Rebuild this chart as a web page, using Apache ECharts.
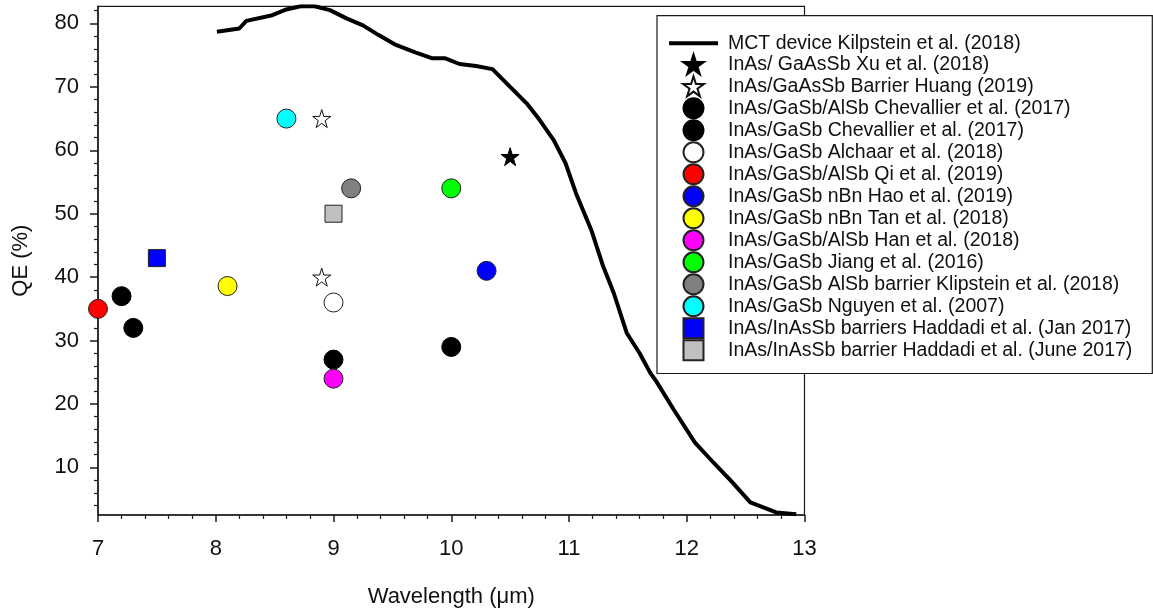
<!DOCTYPE html>
<html>
<head>
<meta charset="utf-8">
<title>QE vs wavelength</title>
<script src="https://cdn.jsdelivr.net/npm/echarts@6/dist/echarts.min.js"></script>
<style>
  html, body { margin: 0; padding: 0; background: #fff; }
  #chart { width: 1153px; height: 610px; }
</style>
</head>
<body>
<div id="chart"></div>
<script>
// MCT reference device: quantum efficiency spectrum
const mctWavelength = [8.01, 8.2, 8.26, 8.48, 8.6, 8.72, 8.84, 8.97, 9.11, 9.25, 9.38, 9.53, 9.7, 9.84, 9.95,
  10.07, 10.21, 10.35, 10.5, 10.64, 10.75, 10.87, 10.97, 11.06, 11.19, 11.29, 11.38, 11.49, 11.6, 11.69,
  11.74, 11.89, 12.07, 12.23, 12.38, 12.54, 12.76, 12.93];
const mctQE = [78.7, 79.2, 80.4, 81.3, 82.2, 82.7, 82.7, 82.1, 80.8, 79.7, 78.2, 76.6, 75.4, 74.5, 74.5,
  73.6, 73.3, 72.8, 70.0, 67.4, 64.8, 61.6, 58.0, 53.2, 47.4, 41.7, 37.5, 31.2, 28.0, 24.9,
  23.6, 19.1, 13.9, 10.7, 7.8, 4.5, 2.9, 2.6];

// Superlattice devices: [wavelength (um), QE (%)]
const xu2018 = [[10.5, 59]];
const huang2019 = [[8.9, 65], [8.9, 40]];
const chevallierAlSb2017 = [[7.3, 32], [10.0, 29]];
const chevallier2017 = [[7.2, 37], [9.0, 27]];
const alchaar2018 = [[9.0, 36]];
const qi2019 = [[7.0, 35]];
const hao2019 = [[10.3, 41]];
const tan2018 = [[8.1, 38.6]];
const han2018 = [[9.0, 24]];
const jiang2016 = [[10.0, 54]];
const klipstein2018 = [[9.15, 54]];
const nguyen2007 = [[8.6, 65]];
const haddadiJan2017 = [[7.5, 43]];
const haddadiJune2017 = [[9.0, 50]];

// Axis ticks
const xTicks = [7, 8, 9, 10, 11, 12, 13];
const yTicks = [10, 20, 30, 40, 50, 60, 70, 80];
const yMinorTicks = [4, 6, 8, 12, 14, 16, 18, 22, 24, 26, 28, 32, 34, 36, 38, 42, 44, 46, 48,
  52, 54, 56, 58, 62, 64, 66, 68, 72, 74, 76, 78, 82];

const FONT = "'Liberation Sans', Arial, sans-serif";
const AXIS_COLOR = '#1a1a1a';
const OUTLINE = '#222';
const STAR = 'path://M50,0 L61.2,35.2 L98,35.2 L68.2,56.8 L79.4,92 L50,70.4 L20.6,92 L31.8,56.8 L2,35.2 L38.8,35.2 Z';
const SQUARE = 'path://M0,0 L10,0 L10,10 L0,10 Z';
const LINE_ICON = 'path://M0,0 L49,0 L49,4 L0,4 Z';

function markerSeries(name, data, symbol, size, fill, border) {
  return {
    name: name,
    type: 'scatter',
    data: data,
    symbol: symbol,
    symbolSize: size,
    itemStyle: { color: fill, borderColor: border, borderWidth: 1, opacity: 1 },
    emphasis: { disabled: true },
    z: 3
  };
}

const series = [
  {
    name: 'MCT device Kilpstein et al. (2018)',
    type: 'line',
    data: mctWavelength.map((w, i) => [w, mctQE[i]]),
    symbol: 'none',
    smooth: false,
    lineStyle: { color: '#000', width: 4 },
    itemStyle: { color: '#000' },
    emphasis: { disabled: true },
    z: 2
  },
  markerSeries('InAs/ GaAsSb Xu et al. (2018)', xu2018, STAR, 18, '#000', '#000'),
  markerSeries('InAs/GaAsSb Barrier Huang (2019)', huang2019, STAR, 18, '#fff', '#111'),
  markerSeries('InAs/GaSb/AlSb Chevallier et al. (2017)', chevallierAlSb2017, 'circle', 19, '#000', '#000'),
  markerSeries('InAs/GaSb Chevallier et al. (2017)', chevallier2017, 'circle', 19, '#000', '#000'),
  markerSeries('InAs/GaSb Alchaar et al. (2018)', alchaar2018, 'circle', 19, '#fff', OUTLINE),
  markerSeries('InAs/GaSb/AlSb Qi et al. (2019)', qi2019, 'circle', 19, '#ff0000', OUTLINE),
  markerSeries('InAs/GaSb nBn Hao et al. (2019)', hao2019, 'circle', 19, '#0000ff', OUTLINE),
  markerSeries('InAs/GaSb nBn Tan et al. (2018)', tan2018, 'circle', 19, '#ffff00', OUTLINE),
  markerSeries('InAs/GaSb/AlSb Han et al. (2018)', han2018, 'circle', 19, '#ff00ff', OUTLINE),
  markerSeries('InAs/GaSb Jiang et al. (2016)', jiang2016, 'circle', 19, '#00ff00', OUTLINE),
  markerSeries('InAs/GaSb AlSb barrier Klipstein et al. (2018)', klipstein2018, 'circle', 19, '#808080', OUTLINE),
  markerSeries('InAs/GaSb Nguyen et al. (2007)', nguyen2007, 'circle', 19, '#00ffff', OUTLINE),
  markerSeries('InAs/InAsSb barriers Haddadi et al. (Jan 2017)', haddadiJan2017, SQUARE, 17, '#0000ff', OUTLINE),
  markerSeries('InAs/InAsSb barrier Haddadi et al. (June 2017)', haddadiJune2017, SQUARE, 17, '#c0c0c0', OUTLINE)
];

const legendData = series.map(s => ({
  name: s.name,
  icon: s.type === 'line' ? LINE_ICON : s.symbol
}));

const chart = echarts.init(document.getElementById('chart'), null, { renderer: 'canvas' });

chart.setOption({
  animation: false,
  backgroundColor: '#fff',
  textStyle: { fontFamily: FONT },
  grid: {
    left: 98, right: 348.5, top: 6.3, bottom: 95,
    show: true, borderColor: AXIS_COLOR, borderWidth: 1.2, backgroundColor: 'transparent',
    containLabel: false,
    outerBoundsMode: 'none'
  },
  legend: {
    orient: 'vertical',
    left: 657, top: 15.7,
    padding: [17.6, 20, 12.2, 12],
    itemWidth: 49, itemHeight: 20, itemGap: 0,
    backgroundColor: '#fff',
    borderColor: AXIS_COLOR, borderWidth: 1.2, borderRadius: 0,
    selectedMode: false,
    symbolKeepAspect: true,
    textStyle: { fontFamily: FONT, fontSize: 19.5, color: '#111', lineHeight: 18, padding: [0, 0, 0, 5] },
    data: legendData,
    z: 10
  },
  xAxis: {
    type: 'value',
    min: xTicks[0], max: xTicks[xTicks.length - 1], interval: 1,
    name: 'Wavelength (μm)',
    nameLocation: 'middle', nameGap: 71,
    nameTextStyle: { fontFamily: FONT, fontSize: 22, color: '#111' },
    axisLine: { show: true, onZero: false, lineStyle: { color: AXIS_COLOR, width: 1.5 } },
    axisTick: { show: true, inside: false, length: 7, lineStyle: { color: AXIS_COLOR, width: 1.5 } },
    minorTick: { show: true, splitNumber: 5, length: 4, lineStyle: { color: AXIS_COLOR, width: 1.2 } },
    axisLabel: { show: true, margin: 23, fontFamily: FONT, fontSize: 22, color: '#111' },
    splitLine: { show: false },
    minorSplitLine: { show: false }
  },
  yAxis: [
    {
      type: 'value',
      min: 2.5, max: 82.7,
      name: 'QE (%)',
      nameLocation: 'middle', nameGap: 66, nameRotate: 90,
      nameTextStyle: { fontFamily: FONT, fontSize: 22, color: '#111' },
      axisLine: { show: true, onZero: false, lineStyle: { color: AXIS_COLOR, width: 1.5 } },
      axisTick: { show: true, inside: false, length: 8, customValues: yTicks, lineStyle: { color: AXIS_COLOR, width: 1.5 } },
      axisLabel: { show: true, margin: 19, customValues: yTicks, fontFamily: FONT, fontSize: 22, color: '#111' },
      splitLine: { show: false }
    },
    {
      type: 'value',
      min: 2.5, max: 82.7,
      position: 'left',
      axisLine: { show: false },
      axisTick: { show: true, inside: false, length: 4, customValues: yMinorTicks, lineStyle: { color: AXIS_COLOR, width: 1.2 } },
      axisLabel: { show: false },
      splitLine: { show: false }
    }
  ],
  series: series
});
</script>
</body>
</html>
